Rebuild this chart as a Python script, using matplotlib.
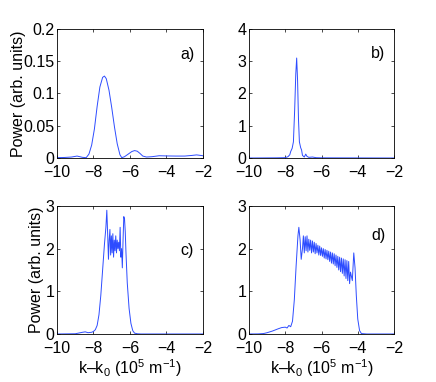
import numpy as np
import matplotlib
matplotlib.use('Agg')
import matplotlib.pyplot as plt

plt.rcParams['font.family'] = ['Liberation Sans', 'DejaVu Sans']
plt.rcParams['font.size'] = 11.5
plt.rcParams['mathtext.fontset'] = 'custom'
plt.rcParams['mathtext.rm'] = 'Liberation Sans'
plt.rcParams['mathtext.it'] = 'Liberation Sans:italic'

# panel a
a_x = [-10, -9.6, -9.2, -8.9, -8.6, -8.4, -8.25, -8.1, -7.95, -7.8, -7.65, -7.5, -7.4, -7.3,
       -7.15, -7.0, -6.85, -6.7, -6.55, -6.45, -6.3, -6.1, -5.9, -5.75, -5.6, -5.45, -5.3,
       -5.1, -4.8, -4.4, -4.0, -3.5, -3.0, -2.6, -2.35, -2.0]
a_y = [0.0005, 0.0008, 0.0015, 0.003, 0.001, 0.0005, 0.006, 0.02, 0.045, 0.08, 0.11, 0.125,
       0.127, 0.123, 0.105, 0.078, 0.048, 0.022, 0.005, 0.0005, 0.002, 0.006, 0.01, 0.0115,
       0.0105, 0.007, 0.003, 0.0015, 0.002, 0.0035, 0.0032, 0.003, 0.003, 0.004, 0.0048, 0.0035]

# panel b
b_x = [-10, -8.5, -8.0, -7.85, -7.75, -7.7, -7.62, -7.55, -7.48, -7.42, -7.37, -7.32, -7.27,
       -7.22, -7.15, -7.1, -7.05, -6.95, -6.87, -6.8, -6.7, -6.5, -6.3, -6.0, -2.0]
b_y = [0, 0.005, 0.01, 0.04, 0.1, 0.2, 0.3, 0.5, 1.5, 2.6, 3.1, 2.4, 1.2, 0.5, 0.32, 0.25,
       0.08, 0.03, 0.12, 0.05, 0.02, 0.03, 0.01, 0.005, 0]

# panel c
c_x = [-10, -9.0, -8.6, -8.45, -8.3, -8.1, -8.0, -7.9, -7.8, -7.7, -7.6, -7.5, -7.4, -7.32,
       -7.27, -7.22, -7.18, -7.14, -7.10, -7.06, -7.02, -6.98, -6.94, -6.90, -6.86, -6.82,
       -6.78, -6.74, -6.70, -6.66, -6.62, -6.58, -6.54, -6.50, -6.46, -6.42, -6.38, -6.34,
       -6.30, -6.26, -6.22, -6.15, -6.05, -5.95, -5.85, -5.75, -5.6, -5.4, -5.0, -2.0]
c_y = [0, 0.005, 0.04, 0.05, 0.03, 0.04, 0.06, 0.1, 0.2, 0.45, 0.9, 1.5, 2.1, 2.5, 2.9, 2.3,
       1.75, 2.2, 2.45, 1.85, 2.3, 1.9, 2.35, 1.8, 2.2, 1.95, 2.3, 1.9, 2.2, 2.0, 2.15, 1.95,
       2.5, 1.8, 2.0, 1.55, 2.2, 2.75, 2.7, 2.4, 1.9, 1.2, 0.6, 0.25, 0.08, 0.02, 0.005, 0, 0, 0]

# panel d
d_x_left = [-10, -9.5, -9.2, -9.0, -8.7, -8.4, -8.2, -8.0, -7.9, -7.8, -7.7, -7.6, -7.5,
            -7.4, -7.3, -7.25, -7.18, -7.12, -7.05]
d_y_left = [0, 0.002, 0.01, 0.03, 0.07, 0.12, 0.15, 0.16, 0.14, 0.2, 0.17, 0.3, 0.8, 1.6,
            2.3, 2.5, 2.2, 1.75, 2.0]
d_y_mid = [2.30, 1.90, 2.28, 1.95, 2.30, 1.92, 2.22, 1.96, 2.20, 1.90, 2.18, 1.92, 2.15, 1.88,
           2.12, 1.90, 2.08, 1.85, 2.06, 1.84, 2.02, 1.82, 2.00, 1.78, 1.98, 1.76, 1.96, 1.74,
           1.94, 1.70, 1.92, 1.66, 1.90, 1.64, 1.88, 1.60, 1.85, 1.56, 1.82, 1.50, 1.80, 1.46,
           1.78, 1.42, 1.76, 1.36, 1.74, 1.30, 1.72, 1.25, 1.70, 1.18]
d_x_mid = np.linspace(-7.0, -4.45, len(d_y_mid))
d_x_right = [-4.40, -4.30, -4.22, -4.15, -4.08, -4.0, -3.9, -3.8, -3.5, -2.0]
d_y_right = [1.45, 1.25, 1.90, 1.55, 0.9, 0.35, 0.08, 0.01, 0, 0]
d_x = np.concatenate([d_x_left, d_x_mid, d_x_right])
d_y = np.concatenate([d_y_left, d_y_mid, d_y_right])

panels = [
    (a_x, a_y, [0, 0.2], [0, 0.05, 0.1, 0.15, 0.2], ['0', '0.05', '0.1', '0.15', '0.2'], 'a)', 0.16),
    (b_x, b_y, [0, 4], [0, 1, 2, 3, 4], None, 'b)', 3.25),
    (c_x, c_y, [0, 3], [0, 1, 2, 3], None, 'c)', 1.95),
    (d_x, d_y, [0, 3], [0, 1, 2, 3], None, 'd)', 2.3),
]
positions = [
    [0.1307, 0.5864, 0.3349, 0.3377],
    [0.5711, 0.5864, 0.3326, 0.3377],
    [0.1307, 0.1257, 0.3349, 0.3351],
    [0.5711, 0.1257, 0.3326, 0.3351],
]

fig = plt.figure(figsize=(4.36, 3.82), dpi=100)
for i, (x, y, ylim, yticks, yticklabels, tag, tag_y) in enumerate(panels):
    ax = fig.add_axes(positions[i])
    ax.plot(x, y, color='#2d4cff', lw=0.7)
    ax.set_xlim(-10, -2)
    ax.set_ylim(ylim)
    ax.set_xticks([-10, -8, -6, -4, -2])
    ax.set_yticks(yticks)
    if yticklabels:
        ax.set_yticklabels(yticklabels)
    ax.tick_params(direction='in', length=2.5, width=0.5, top=True, right=True)
    ax.tick_params(axis='x', pad=5)
    ax.tick_params(axis='y', pad=2)
    for s in ax.spines.values():
        s.set_linewidth(0.6)
    ax.text(-3.25, tag_y, tag, va='center', ha='left')
    if i == 0:
        ax.set_ylabel('Power (arb. units)', labelpad=-2)
    if i == 2:
        ax.set_ylabel('Power (arb. units)', labelpad=1)
    if i in (2, 3):
        ax.set_xlabel('k\u2013k$_0$ (10$^5$ m$^{-1}$)', labelpad=1)

fig.savefig('out.png', dpi=100)
